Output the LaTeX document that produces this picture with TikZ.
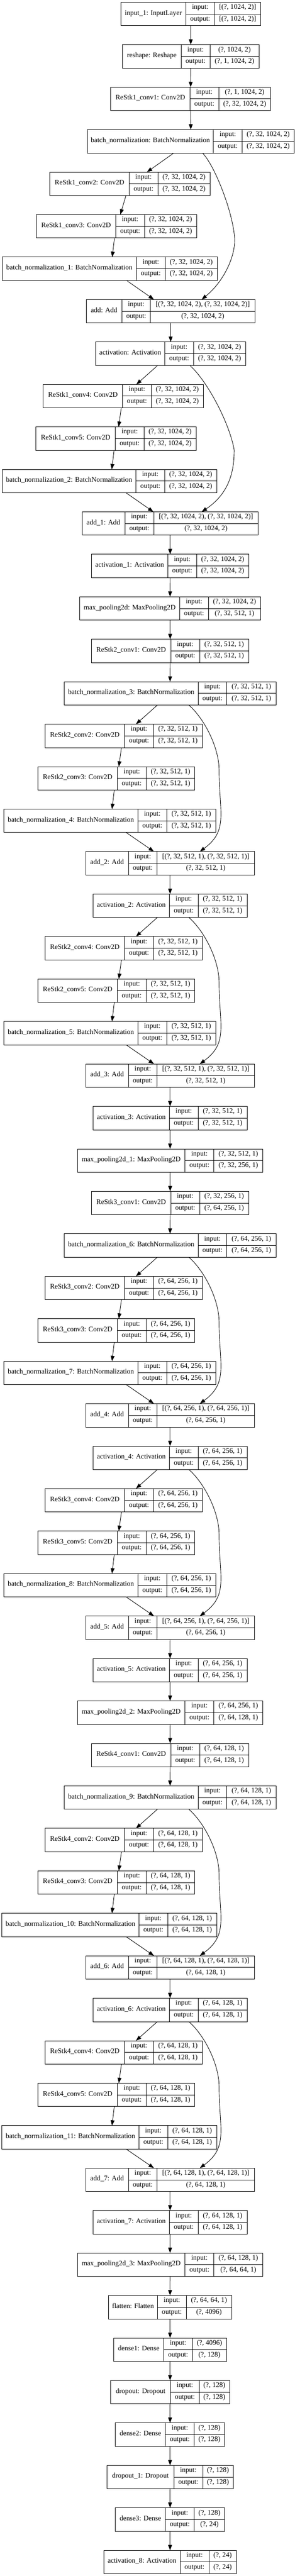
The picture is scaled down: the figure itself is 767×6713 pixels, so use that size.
\documentclass[tikz,border=0pt]{standalone}
\usepackage{fontspec}
\setmainfont{Liberation Serif}
\usetikzlibrary{arrows.meta,calc}

\newcommand{\DrawLayer}[9]{%
  \pgfmathsetmacro{\LyrTop}{-5.8-(#2-1)*110.67}%
  \pgfmathsetmacro{\LyrMid}{\LyrTop-30.5}%
  \pgfmathsetmacro{\LyrBot}{\LyrTop-61}%
  \node[lyrbox,minimum width={(#6-#3)*1pt}] (#1) at ({(#3+#6)/2},\LyrMid) {};
  \draw[cellrule] (#4,\LyrTop) -- (#4,\LyrBot) (#5,\LyrTop) -- (#5,\LyrBot) (#4,\LyrMid) -- (#6,\LyrMid);
  \node[cell] (#1-name) at ({(#3+#4)/2},\LyrMid) {#7};
  \node[cell] (#1-in) at ({(#4+#5)/2},{\LyrMid+15.25}) {input:};
  \node[cell] (#1-out) at ({(#4+#5)/2},{\LyrMid-15.25}) {output:};
  \node[cell] (#1-inval) at ({(#5+#6)/2},{\LyrMid+15.25}) {#8};
  \node[cell] (#1-outval) at ({(#5+#6)/2},{\LyrMid-15.25}) {#9};
}

\begin{document}
\begin{tikzpicture}[x=1pt,y=1pt,
  lyrbox/.style={draw,line width=1.2pt,inner sep=0pt,outer sep=0pt,minimum height=61pt},
  cellrule/.style={line width=1.2pt},
  cell/.style={inner sep=0pt,font=\fontsize{18.3}{22}\selectfont,text height=0.75em,text depth=0.22em},
  flow/.style={line width=1.2pt,-{Triangle[length=14pt,width=10pt]}}]
\fill[white] (0,0) rectangle (767,-6713);
\useasboundingbox (0,0) rectangle (767,-6713);

\DrawLayer{In}{1}{315.2}{483.3}{559.1}{678.1}{input\_1: InputLayer}{[(?, 1024, 2)]}{[(?, 1024, 2)]}
\DrawLayer{Rs}{2}{319.1}{471.5}{546.8}{674.1}{reshape: Reshape}{(?, 1024, 2)}{(?, 1, 1024, 2)}
\DrawLayer{C11}{3}{288.1}{494.7}{569.4}{704.6}{ReStk1\_conv1: Conv2D}{(?, 1, 1024, 2)}{(?, 32, 1024, 2)}
\DrawLayer{BN0}{4}{227.2}{555.6}{630.4}{766.1}{batch\_normalization: BatchNormalization}{(?, 32, 1024, 2)}{(?, 32, 1024, 2)}
\DrawLayer{C12}{5}{129.8}{336.3}{411.1}{546.8}{ReStk1\_conv2: Conv2D}{(?, 32, 1024, 2)}{(?, 32, 1024, 2)}
\DrawLayer{C13}{6}{94.9}{301.4}{376.2}{511.9}{ReStk1\_conv3: Conv2D}{(?, 32, 1024, 2)}{(?, 32, 1024, 2)}
\DrawLayer{BN1}{7}{5.9}{355.0}{430.2}{565.5}{batch\_normalization\_1: BatchNormalization}{(?, 32, 1024, 2)}{(?, 32, 1024, 2)}
\DrawLayer{Add0}{8}{224.7}{317.2}{391.9}{663.8}{add: Add}{[(?, 32, 1024, 2), (?, 32, 1024, 2)]}{(?, 32, 1024, 2)}
\DrawLayer{Act0}{9}{249.3}{428.8}{504.0}{639.2}{activation: Activation}{(?, 32, 1024, 2)}{(?, 32, 1024, 2)}
\DrawLayer{C14}{10}{112.6}{319.1}{393.9}{529.1}{ReStk1\_conv4: Conv2D}{(?, 32, 1024, 2)}{(?, 32, 1024, 2)}
\DrawLayer{C15}{11}{93.9}{300.0}{375.2}{510.4}{ReStk1\_conv5: Conv2D}{(?, 32, 1024, 2)}{(?, 32, 1024, 2)}
\DrawLayer{BN2}{12}{5.4}{354.0}{428.8}{564.0}{batch\_normalization\_2: BatchNormalization}{(?, 32, 1024, 2)}{(?, 32, 1024, 2)}
\DrawLayer{Add1}{13}{213.4}{325.0}{400.3}{672.2}{add\_1: Add}{[(?, 32, 1024, 2), (?, 32, 1024, 2)]}{(?, 32, 1024, 2)}
\DrawLayer{Act1}{14}{238.5}{436.6}{511.9}{647.6}{activation\_1: Activation}{(?, 32, 1024, 2)}{(?, 32, 1024, 2)}
\DrawLayer{MP0}{15}{207.5}{467.6}{542.8}{678.1}{max\_pooling2d: MaxPooling2D}{(?, 32, 1024, 2)}{(?, 32, 512, 1)}

\DrawLayer{C21}{16}{238.5}{444.5}{519.7}{647.6}{ReStk2\_conv1: Conv2D}{(?, 32, 512, 1)}{(?, 32, 512, 1)}
\DrawLayer{BN3}{17}{167.2}{515.8}{590.5}{718.4}{batch\_normalization\_3: BatchNormalization}{(?, 32, 512, 1)}{(?, 32, 512, 1)}
\DrawLayer{C22}{18}{117.5}{324.0}{399.8}{526.6}{ReStk2\_conv2: Conv2D}{(?, 32, 512, 1)}{(?, 32, 512, 1)}
\DrawLayer{C23}{19}{98.8}{305.3}{380.6}{507.4}{ReStk2\_conv3: Conv2D}{(?, 32, 512, 1)}{(?, 32, 512, 1)}
\DrawLayer{BN4}{20}{10.3}{358.9}{434.2}{561.5}{batch\_normalization\_4: BatchNormalization}{(?, 32, 512, 1)}{(?, 32, 512, 1)}
\DrawLayer{Add2}{21}{223.2}{334.4}{409.1}{662.3}{add\_2: Add}{[(?, 32, 512, 1), (?, 32, 512, 1)]}{(?, 32, 512, 1)}
\DrawLayer{Act2}{22}{242.4}{441.1}{515.8}{643.2}{activation\_2: Activation}{(?, 32, 512, 1)}{(?, 32, 512, 1)}
\DrawLayer{C24}{23}{117.5}{324.0}{399.8}{526.6}{ReStk2\_conv4: Conv2D}{(?, 32, 512, 1)}{(?, 32, 512, 1)}
\DrawLayer{C25}{24}{98.8}{305.3}{380.6}{507.4}{ReStk2\_conv5: Conv2D}{(?, 32, 512, 1)}{(?, 32, 512, 1)}
\DrawLayer{BN5}{25}{10.3}{358.9}{434.2}{561.5}{batch\_normalization\_5: BatchNormalization}{(?, 32, 512, 1)}{(?, 32, 512, 1)}
\DrawLayer{Add3}{26}{223.2}{334.4}{409.1}{662.3}{add\_3: Add}{[(?, 32, 512, 1), (?, 32, 512, 1)]}{(?, 32, 512, 1)}
\DrawLayer{Act3}{27}{242.4}{441.1}{515.8}{643.2}{activation\_3: Activation}{(?, 32, 512, 1)}{(?, 32, 512, 1)}
\DrawLayer{MP1}{28}{201.6}{481.4}{557.1}{684.0}{max\_pooling2d\_1: MaxPooling2D}{(?, 32, 512, 1)}{(?, 32, 256, 1)}

\DrawLayer{C31}{29}{238.5}{444.5}{519.7}{647.6}{ReStk3\_conv1: Conv2D}{(?, 32, 256, 1)}{(?, 64, 256, 1)}
\DrawLayer{BN6}{30}{167.2}{515.8}{590.5}{718.4}{batch\_normalization\_6: BatchNormalization}{(?, 64, 256, 1)}{(?, 64, 256, 1)}
\DrawLayer{C32}{31}{117.5}{324.0}{399.8}{526.6}{ReStk3\_conv2: Conv2D}{(?, 64, 256, 1)}{(?, 64, 256, 1)}
\DrawLayer{C33}{32}{98.8}{305.3}{380.6}{507.4}{ReStk3\_conv3: Conv2D}{(?, 64, 256, 1)}{(?, 64, 256, 1)}
\DrawLayer{BN7}{33}{10.3}{358.9}{434.2}{561.5}{batch\_normalization\_7: BatchNormalization}{(?, 64, 256, 1)}{(?, 64, 256, 1)}
\DrawLayer{Add4}{34}{223.2}{334.4}{409.1}{662.3}{add\_4: Add}{[(?, 64, 256, 1), (?, 64, 256, 1)]}{(?, 64, 256, 1)}
\DrawLayer{Act4}{35}{242.4}{441.1}{515.8}{643.2}{activation\_4: Activation}{(?, 64, 256, 1)}{(?, 64, 256, 1)}
\DrawLayer{C34}{36}{117.5}{324.0}{399.8}{526.6}{ReStk3\_conv4: Conv2D}{(?, 64, 256, 1)}{(?, 64, 256, 1)}
\DrawLayer{C35}{37}{98.8}{305.3}{380.6}{507.4}{ReStk3\_conv5: Conv2D}{(?, 64, 256, 1)}{(?, 64, 256, 1)}
\DrawLayer{BN8}{38}{10.3}{358.9}{434.2}{561.5}{batch\_normalization\_8: BatchNormalization}{(?, 64, 256, 1)}{(?, 64, 256, 1)}
\DrawLayer{Add5}{39}{223.2}{334.4}{409.1}{662.3}{add\_5: Add}{[(?, 64, 256, 1), (?, 64, 256, 1)]}{(?, 64, 256, 1)}
\DrawLayer{Act5}{40}{242.4}{441.1}{515.8}{643.2}{activation\_5: Activation}{(?, 64, 256, 1)}{(?, 64, 256, 1)}
\DrawLayer{MP2}{41}{201.6}{481.4}{557.1}{684.0}{max\_pooling2d\_2: MaxPooling2D}{(?, 64, 256, 1)}{(?, 64, 128, 1)}

\DrawLayer{C41}{42}{238.5}{444.5}{519.7}{647.6}{ReStk4\_conv1: Conv2D}{(?, 64, 128, 1)}{(?, 64, 128, 1)}
\DrawLayer{BN9}{43}{167.2}{515.8}{590.5}{718.4}{batch\_normalization\_9: BatchNormalization}{(?, 64, 128, 1)}{(?, 64, 128, 1)}
\DrawLayer{C42}{44}{117.5}{324.0}{399.8}{526.6}{ReStk4\_conv2: Conv2D}{(?, 64, 128, 1)}{(?, 64, 128, 1)}
\DrawLayer{C43}{45}{98.8}{305.3}{380.6}{507.4}{ReStk4\_conv3: Conv2D}{(?, 64, 128, 1)}{(?, 64, 128, 1)}
\DrawLayer{BN10}{46}{4.9}{361.9}{436.6}{564.0}{batch\_normalization\_10: BatchNormalization}{(?, 64, 128, 1)}{(?, 64, 128, 1)}
\DrawLayer{Add6}{47}{223.2}{334.4}{409.1}{662.3}{add\_6: Add}{[(?, 64, 128, 1), (?, 64, 128, 1)]}{(?, 64, 128, 1)}
\DrawLayer{Act6}{48}{242.4}{441.1}{515.8}{643.2}{activation\_6: Activation}{(?, 64, 128, 1)}{(?, 64, 128, 1)}
\DrawLayer{C44}{49}{117.5}{324.0}{399.8}{526.6}{ReStk4\_conv4: Conv2D}{(?, 64, 128, 1)}{(?, 64, 128, 1)}
\DrawLayer{C45}{50}{98.8}{305.3}{380.6}{507.4}{ReStk4\_conv5: Conv2D}{(?, 64, 128, 1)}{(?, 64, 128, 1)}
\DrawLayer{BN11}{51}{4.9}{361.9}{436.6}{564.0}{batch\_normalization\_11: BatchNormalization}{(?, 64, 128, 1)}{(?, 64, 128, 1)}
\DrawLayer{Add7}{52}{223.2}{334.4}{409.1}{662.3}{add\_7: Add}{[(?, 64, 128, 1), (?, 64, 128, 1)]}{(?, 64, 128, 1)}
\DrawLayer{Act7}{53}{242.4}{441.1}{515.8}{643.2}{activation\_7: Activation}{(?, 64, 128, 1)}{(?, 64, 128, 1)}
\DrawLayer{MP3}{54}{201.6}{481.4}{557.1}{684.0}{max\_pooling2d\_3: MaxPooling2D}{(?, 64, 128, 1)}{(?, 64, 64, 1)}

\DrawLayer{Fl}{55}{282.2}{410.1}{484.8}{603.3}{flatten: Flatten}{(?, 64, 64, 1)}{(?, 4096)}
\DrawLayer{Ds1}{56}{296.0}{426.3}{501.0}{589.5}{dense1: Dense}{(?, 4096)}{(?, 128)}
\DrawLayer{Dp0}{57}{288.1}{444.0}{518.7}{597.4}{dropout: Dropout}{(?, 128)}{(?, 128)}
\DrawLayer{Ds2}{58}{300.4}{430.7}{505.5}{585.1}{dense2: Dense}{(?, 128)}{(?, 128)}
\DrawLayer{Dp1}{59}{278.3}{452.8}{527.6}{607.2}{dropout\_1: Dropout}{(?, 128)}{(?, 128)}
\DrawLayer{Ds3}{60}{300.4}{430.7}{505.5}{585.1}{dense3: Dense}{(?, 128)}{(?, 24)}
\DrawLayer{Act8}{61}{270.4}{469.1}{543.8}{615.1}{activation\_8: Activation}{(?, 24)}{(?, 24)}

\draw[flow] (In.south) -- (Rs.north);
\draw[flow] (Rs.south) -- (C11.north);
\draw[flow] (C11.south) -- (BN0.north);
\draw[flow] ([xshift=-44.3pt]BN0.south) -- ([xshift=44.2pt]C12.north);
\draw[flow] ([xshift=-10.3pt]C12.south) -- ([xshift=9.8pt]C13.north);
\draw[flow] ([xshift=-5.4pt]C13.south) -- ([xshift=6.4pt]BN1.north);
\draw[flow] ([xshift=43.7pt]BN1.south) -- ([xshift=-43.6pt]Add0.north);
\draw[flow] ([xshift=30.5pt]BN0.south) .. controls +(30,-30) and +(-5,75) .. ++(84,-225) .. controls +(0,-50) and +(55,45) .. ([xshift=80.8pt]Add0.north);
\draw[flow] (Add0.south) -- (Act0.north);
\draw[flow] ([xshift=-33.7pt]Act0.south) -- ([xshift=34.1pt]C14.north);
\draw[flow] ([xshift=-5.2pt]C14.south) -- ([xshift=6.6pt]C15.north);
\draw[flow] ([xshift=-5.2pt]C15.south) -- ([xshift=6.3pt]BN2.north);
\draw[flow] ([xshift=43.3pt]BN2.south) -- ([xshift=-43.5pt]Add1.north);
\draw[flow] ([xshift=49.9pt]Act0.south) .. controls +(45,-40) and +(-12,70) .. ++(115.5,-220.5) .. controls +(0,-50) and +(75,50) .. ([xshift=82.2pt]Add1.north);
\draw[flow] (Add1.south) -- (Act1.north);
\draw[flow] (Act1.south) -- (MP0.north);
\draw[flow] (MP0.south) -- (C21.north);
\draw[flow] (C21.south) -- (BN3.north);

\draw[flow] ([xshift=-33.2pt]BN3.south) -- ([xshift=31.9pt]C22.north);
\draw[flow] ([xshift=-5.9pt]C22.south) -- ([xshift=6.2pt]C23.north);
\draw[flow] ([xshift=-5.6pt]C23.south) -- ([xshift=5.7pt]BN4.north);
\draw[flow] ([xshift=42.6pt]BN4.south) -- ([xshift=-42pt]Add2.north);
\draw[flow] ([xshift=48.9pt]BN3.south) .. controls +(40,-35) and +(0,60) .. ++(78.7,-170) .. controls +(0,-110) and +(75,55) .. ([xshift=77.5pt]Add2.north);
\draw[flow] (Add2.south) -- (Act2.north);
\draw[flow] ([xshift=-33.2pt]Act2.south) -- ([xshift=31.9pt]C24.north);
\draw[flow] ([xshift=-5.9pt]C24.south) -- ([xshift=6.2pt]C25.north);
\draw[flow] ([xshift=-5.6pt]C25.south) -- ([xshift=5.7pt]BN5.north);
\draw[flow] ([xshift=42.6pt]BN5.south) -- ([xshift=-42pt]Add3.north);
\draw[flow] ([xshift=48.9pt]Act2.south) .. controls +(40,-35) and +(0,60) .. ++(78.7,-170) .. controls +(0,-110) and +(75,55) .. ([xshift=77.5pt]Add3.north);
\draw[flow] (Add3.south) -- (Act3.north);
\draw[flow] (Act3.south) -- (MP1.north);
\draw[flow] (MP1.south) -- (C31.north);
\draw[flow] (C31.south) -- (BN6.north);

\draw[flow] ([xshift=-33.2pt]BN6.south) -- ([xshift=31.9pt]C32.north);
\draw[flow] ([xshift=-5.9pt]C32.south) -- ([xshift=6.2pt]C33.north);
\draw[flow] ([xshift=-5.6pt]C33.south) -- ([xshift=5.7pt]BN7.north);
\draw[flow] ([xshift=42.6pt]BN7.south) -- ([xshift=-42pt]Add4.north);
\draw[flow] ([xshift=48.9pt]BN6.south) .. controls +(40,-35) and +(0,60) .. ++(78.7,-170) .. controls +(0,-110) and +(75,55) .. ([xshift=77.5pt]Add4.north);
\draw[flow] (Add4.south) -- (Act4.north);
\draw[flow] ([xshift=-33.2pt]Act4.south) -- ([xshift=31.9pt]C34.north);
\draw[flow] ([xshift=-5.9pt]C34.south) -- ([xshift=6.2pt]C35.north);
\draw[flow] ([xshift=-5.6pt]C35.south) -- ([xshift=5.7pt]BN8.north);
\draw[flow] ([xshift=42.6pt]BN8.south) -- ([xshift=-42pt]Add5.north);
\draw[flow] ([xshift=48.9pt]Act4.south) .. controls +(40,-35) and +(0,60) .. ++(78.7,-170) .. controls +(0,-110) and +(75,55) .. ([xshift=77.5pt]Add5.north);
\draw[flow] (Add5.south) -- (Act5.north);
\draw[flow] (Act5.south) -- (MP2.north);
\draw[flow] (MP2.south) -- (C41.north);
\draw[flow] (C41.south) -- (BN9.north);

\draw[flow] ([xshift=-33.2pt]BN9.south) -- ([xshift=31.9pt]C42.north);
\draw[flow] ([xshift=-5.9pt]C42.south) -- ([xshift=6.2pt]C43.north);
\draw[flow] ([xshift=-5.6pt]C43.south) -- ([xshift=7.1pt]BN10.north);
\draw[flow] ([xshift=44pt]BN10.south) -- ([xshift=-42pt]Add6.north);
\draw[flow] ([xshift=48.9pt]BN9.south) .. controls +(40,-35) and +(0,60) .. ++(78.7,-170) .. controls +(0,-110) and +(75,55) .. ([xshift=77.5pt]Add6.north);
\draw[flow] (Add6.south) -- (Act6.north);
\draw[flow] ([xshift=-33.2pt]Act6.south) -- ([xshift=31.9pt]C44.north);
\draw[flow] ([xshift=-5.9pt]C44.south) -- ([xshift=6.2pt]C45.north);
\draw[flow] ([xshift=-5.6pt]C45.south) -- ([xshift=7.1pt]BN11.north);
\draw[flow] ([xshift=44pt]BN11.south) -- ([xshift=-42pt]Add7.north);
\draw[flow] ([xshift=48.9pt]Act6.south) .. controls +(40,-35) and +(0,60) .. ++(78.7,-170) .. controls +(0,-110) and +(75,55) .. ([xshift=77.5pt]Add7.north);
\draw[flow] (Add7.south) -- (Act7.north);
\draw[flow] (Act7.south) -- (MP3.north);
\draw[flow] (MP3.south) -- (Fl.north);
\draw[flow] (Fl.south) -- (Ds1.north);
\draw[flow] (Ds1.south) -- (Dp0.north);
\draw[flow] (Dp0.south) -- (Ds2.north);
\draw[flow] (Ds2.south) -- (Dp1.north);
\draw[flow] (Dp1.south) -- (Ds3.north);
\draw[flow] (Ds3.south) -- (Act8.north);
\end{tikzpicture}
\end{document}
